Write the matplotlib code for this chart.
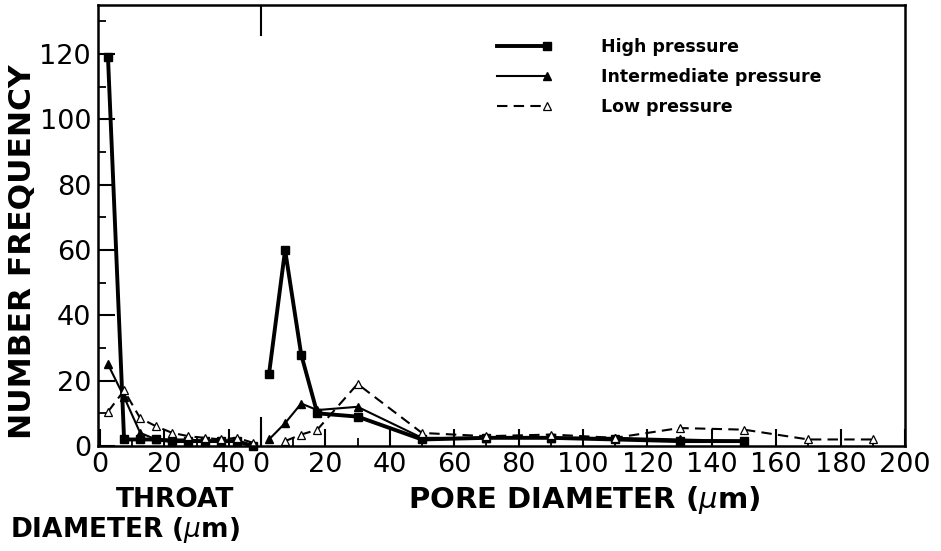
import matplotlib
matplotlib.use('Agg')
import matplotlib.pyplot as plt
from matplotlib.legend_handler import HandlerLine2D
from matplotlib.lines import Line2D
from matplotlib.ticker import MultipleLocator, FixedLocator
import numpy as np

# ---- data ----
throat_x_high = [2.5, 7.5, 12.5, 17.5, 22.5, 27.5, 32.5, 37.5, 42.5, 47.5]
throat_high = [119, 2, 2, 2, 1.5, 1.5, 1.5, 1.5, 1.5, 0]

throat_x_inter = [2.5, 7.5, 12.5, 17.5, 22.5, 27.5, 32.5, 37.5, 42.5]
throat_inter = [25, 15, 4, 2, 2, 2, 1.5, 1.5, 1.5]

throat_x_low = [2.5, 7.5, 12.5, 17.5, 22.5, 27.5, 32.5, 37.5, 42.5, 47.5]
throat_low = [10.5, 17, 8.5, 6, 4, 3, 2.5, 2, 2.5, 1]

pore_x = [2.5, 7.5, 12.5, 17.5, 30, 50, 70, 90, 110, 130, 150]
pore_high = [22, 60, 28, 10, 9, 2, 2.5, 2.5, 2, 1.5, 1.5]
pore_inter = [2, 7, 13, 11, 12, 2.5, 2.5, 2.5, 2.5, 2, 1.5]

pore_x_low = [7.5, 12.5, 17.5, 30, 50, 70, 90, 110, 130, 150, 170, 190]
pore_low = [1.5, 3.5, 5, 19, 4, 3, 3.5, 2.5, 5.5, 5, 2, 2]

throat_ticks = [0, 20, 40]
pore_ticks = [0, 20, 40, 60, 80, 100, 120, 140, 160, 180, 200]
y_ticks = [0, 20, 40, 60, 80, 100, 120]

series_labels = ['High pressure', 'Intermediate pressure', 'Low pressure']

PORE_OFFSET = 50  # where pore diameter 0 sits on the shared axis

# ---- styles ----
high_style = dict(color='black', lw=2.8, marker='s', ms=5.5, ls='-')
inter_style = dict(color='black', lw=1.5, marker='^', ms=5.5, ls='-')
low_style = dict(color='black', lw=1.5, marker='^', ms=5.5, ls=(0, (5, 3)),
                 mfc='white', mec='black', mew=0.9)

fig = plt.figure(figsize=(9.41, 5.51), dpi=100)
ax = fig.add_axes([98 / 941, 105 / 551, 807 / 941, 441 / 551])

px = np.array(pore_x) + PORE_OFFSET
pxl = np.array(pore_x_low) + PORE_OFFSET

h, = ax.plot(throat_x_high, throat_high, clip_on=False, **high_style)
ax.plot(px, pore_high, clip_on=False, **high_style)
i, = ax.plot(throat_x_inter, throat_inter, clip_on=False, **inter_style)
ax.plot(px, pore_inter, clip_on=False, **inter_style)
l, = ax.plot(throat_x_low, throat_low, clip_on=False, **low_style)
ax.plot(pxl, pore_low, clip_on=False, **low_style)

ax.set_xlim(-0.6, 200 + PORE_OFFSET)
ax.set_ylim(0, 135)

xt = list(throat_ticks) + [p + PORE_OFFSET for p in pore_ticks]
xl = [str(t) for t in throat_ticks] + [str(p) for p in pore_ticks]
ax.set_xticks(xt)
ax.set_xticklabels(xl)
minor_x = [10, 30] + [p + 10 + PORE_OFFSET for p in pore_ticks[:-1]]
ax.xaxis.set_minor_locator(FixedLocator(minor_x))
ax.set_yticks(y_ticks)
ax.yaxis.set_minor_locator(MultipleLocator(10))

ax.tick_params(axis='both', which='major', direction='in', length=12, width=1.5,
               labelsize=19.5, pad=5)
ax.tick_params(axis='both', which='minor', direction='in', length=6, width=1.3)
ax.tick_params(axis='x', pad=4)
for s in ax.spines.values():
    s.set_linewidth(1.8)

# divider between throat and pore scales
ax.axvline(PORE_OFFSET, ymin=0, ymax=28 / 441, color='black', lw=1.5)
ax.axvline(PORE_OFFSET, ymin=1 - 30 / 441, ymax=1, color='black', lw=1.5)


# legend with the marker at the right end of the line sample
class EndMarkerHandler(HandlerLine2D):
    def create_artists(self, legend, orig_handle, xdescent, ydescent,
                       width, height, fontsize, trans):
        xdata = np.array([-xdescent, -xdescent + width])
        ydata = np.full_like(xdata, (height - ydescent) / 2)
        legline = Line2D(xdata, ydata, markevery=[1])
        self.update_prop(legline, orig_handle, legend)
        legline.set_transform(trans)
        return [legline]


leg = ax.legend([h, i, l], series_labels, loc='upper left',
                bbox_to_anchor=(497 / 941, 1 - 38 / 551), bbox_transform=fig.transFigure,
                frameon=False, borderpad=0, borderaxespad=0, handlelength=2.9,
                handletextpad=3.1, labelspacing=0.7,
                prop=dict(size=12.5, weight='bold'),
                handler_map={h: EndMarkerHandler(), i: EndMarkerHandler(),
                             l: EndMarkerHandler()})

fig.text(23 / 941, 1 - 252 / 551, 'NUMBER FREQUENCY', rotation=90, ha='center',
         va='center', fontsize=22.5, fontweight='bold')
fig.text(584 / 941, 1 - 500 / 551, 'PORE DIAMETER ($\\mu$m)', ha='center',
         va='center', fontsize=21, fontweight='bold')
fig.text(175 / 941, 1 - 500 / 551, 'THROAT', ha='center', va='center',
         fontsize=19, fontweight='bold')
fig.text(125 / 941, 1 - 530 / 551, 'DIAMETER ($\\mu$m)', ha='center', va='center',
         fontsize=19, fontweight='bold')

fig.savefig('out.png', dpi=100)
